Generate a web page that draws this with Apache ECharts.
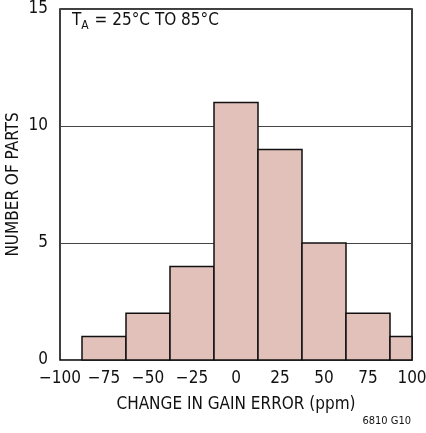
<!DOCTYPE html>
<html><head><meta charset="utf-8">
<script src="https://cdn.jsdelivr.net/npm/echarts@6/dist/echarts.min.js"></script>
<style>html,body{margin:0;padding:0;background:#fff}#c{width:426px;height:433px}</style>
</head><body><div id="c"></div>
<script>
const binStart = [-87.5, -62.5, -37.5, -12.5, 12.5, 37.5, 62.5, 87.5];
const binEnd   = [-62.5, -37.5, -12.5, 12.5, 37.5, 62.5, 87.5, 100];
const counts   = [1, 2, 4, 11, 9, 5, 2, 1];
const xTicks = [-100, -75, -50, -25, 0, 25, 50, 75, 100];
const yTicks = [0, 5, 10, 15];

const FONT = "'Liberation Sans Narrow', 'DejaVu Sans Condensed', 'Liberation Sans', sans-serif";
const chart = echarts.init(document.getElementById('c'), null, {renderer: 'canvas'});
const data = counts.map((c, i) => [binStart[i], binEnd[i], c]);
chart.setOption({
  animation: false,
  backgroundColor: '#fff',
  grid: {left: 60, right: 14, top: 9, bottom: 73, containLabel: false, outerBoundsMode: 'none',
    show: true, borderColor: '#000', borderWidth: 1.5, backgroundColor: 'transparent'},
  xAxis: {
    type: 'value', min: xTicks[0], max: xTicks[xTicks.length - 1], interval: 25,
    axisLine: {show: false}, axisTick: {show: false}, splitLine: {show: false},
    axisLabel: {fontFamily: FONT, fontSize: 17, color: '#111', margin: 10,
      formatter: v => (v < 0 ? '\u2212' + Math.abs(v) : String(v))},
    name: 'CHANGE IN GAIN ERROR (ppm)', nameLocation: 'middle', nameGap: 36,
    nameMoveOverlap: false,
    nameTextStyle: {fontFamily: FONT, fontSize: 17, color: '#111'}
  },
  yAxis: {
    type: 'value', min: yTicks[0], max: yTicks[yTicks.length - 1], interval: 5,
    axisLine: {show: false}, axisTick: {show: false},
    splitLine: {show: true, lineStyle: {color: '#444', width: 1}},
    axisLabel: {fontFamily: FONT, fontSize: 17, color: '#111', margin: 12},
    name: 'NUMBER OF PARTS', nameLocation: 'middle', nameGap: 38,
    nameMoveOverlap: false,
    nameTextStyle: {fontFamily: FONT, fontSize: 17, color: '#111'}
  },
  series: [{
    type: 'custom',
    data: data,
    encode: {x: [0, 1], y: 2},
    renderItem: function (params, api) {
      const p0 = api.coord([api.value(0), api.value(2)]);
      const p1 = api.coord([api.value(1), 0]);
      return {
        type: 'rect',
        shape: {x: p0[0], y: p0[1], width: p1[0] - p0[0], height: p1[1] - p0[1]},
        style: {fill: '#e3c1bb', stroke: '#111', lineWidth: 1.5}
      };
    }
  }],
  graphic: [
    {type: 'text', left: 72, top: 12, style: {
      text: '{t|T}{s|A}{t| = 25°C TO 85°C}',
      rich: {t: {fontFamily: FONT, fontSize: 17, fill: '#111', verticalAlign: 'top'},
             s: {fontFamily: FONT, fontSize: 12, fill: '#111', padding: [8, 1, 0, 0]}}
    }},
    {type: 'text', right: 15, top: 416, style: {text: '6810 G10', fontFamily: FONT, fontSize: 11, fill: '#111'}}
  ]
});
</script></body></html>
